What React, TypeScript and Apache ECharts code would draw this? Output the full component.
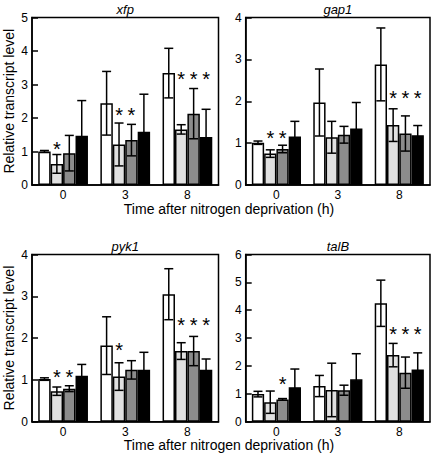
import React, { useEffect, useRef } from "react";
import * as echarts from "echarts";

const CATEGORIES = ["0", "3", "8"];
const PANEL_TITLES = ["xfp", "gap1", "pyk1", "talB"];
const Y_MAX = [5, 4, 4, 6];
const X_AXIS_TITLE = "Time after nitrogen deprivation (h)";
const Y_AXIS_TITLE = "Relative transcript level";
const BAR_COLORS = ["#ffffff", "#e0e0e0", "#8c8c8c", "#000000"];

// means per bar type (white, light gray, mid gray, black) over times 0, 3, 8 h
const XFP_MEANS = [
  [1.0, 2.44, 3.34],
  [0.63, 1.21, 1.66],
  [0.95, 1.34, 2.13],
  [1.47, 1.59, 1.43],
];
const XFP_ERRORS = [
  [0.03, 0.95, 0.74],
  [0.28, 0.64, 0.14],
  [0.53, 0.47, 0.75],
  [1.05, 1.12, 0.83],
];
const XFP_STARS = [
  [0, 1, 1.19],
  [1, 1, 2.22], [1, 2, 2.22],
  [2, 1, 3.28], [2, 2, 3.28], [2, 3, 3.28],
];

const GAP1_MEANS = [
  [1.01, 1.97, 2.88],
  [0.75, 1.14, 1.43],
  [0.86, 1.2, 1.23],
  [1.16, 1.35, 1.19],
];
const GAP1_ERRORS = [
  [0.04, 0.8, 0.87],
  [0.09, 0.38, 0.39],
  [0.09, 0.2, 0.42],
  [0.36, 0.62, 0.23],
];
const GAP1_STARS = [
  [0, 1, 1.22], [0, 2, 1.22],
  [2, 1, 2.17], [2, 2, 2.17], [2, 3, 2.17],
];

const PYK1_MEANS = [
  [1.02, 1.82, 3.05],
  [0.73, 1.08, 1.69],
  [0.79, 1.24, 1.69],
  [1.1, 1.24, 1.24],
];
const PYK1_ERRORS = [
  [0.03, 0.69, 0.61],
  [0.1, 0.33, 0.2],
  [0.07, 0.22, 0.35],
  [0.27, 0.42, 0.26],
];
const PYK1_STARS = [
  [0, 1, 1.17], [0, 2, 1.17],
  [1, 1, 1.81],
  [2, 1, 2.41], [2, 2, 2.41], [2, 3, 2.41],
];

const TALB_MEANS = [
  [0.99, 1.28, 4.25],
  [0.7, 1.14, 2.39],
  [0.8, 1.13, 1.76],
  [1.24, 1.52, 1.87],
];
const TALB_ERRORS = [
  [0.1, 0.38, 0.83],
  [0.4, 0.96, 0.42],
  [0.03, 0.18, 0.56],
  [0.65, 0.92, 0.6],
];
const TALB_STARS = [
  [0, 2, 1.48],
  [2, 1, 3.29], [2, 2, 3.29], [2, 3, 3.29],
];

const PANELS = [
  { means: XFP_MEANS, errors: XFP_ERRORS, stars: XFP_STARS },
  { means: GAP1_MEANS, errors: GAP1_ERRORS, stars: GAP1_STARS },
  { means: PYK1_MEANS, errors: PYK1_ERRORS, stars: PYK1_STARS },
  { means: TALB_MEANS, errors: TALB_ERRORS, stars: TALB_STARS },
];

const FONT = '"Liberation Sans", Arial, Helvetica, sans-serif';
const BAR_FRACTION = 0.2;

const GRIDS = [
  { left: 32, top: 17.5, width: 186.5, height: 167.5 },
  { left: 245.7, top: 17.5, width: 184.3, height: 167.5 },
  { left: 32, top: 254.5, width: 186.5, height: 167.2 },
  { left: 245.7, top: 254.5, width: 184.3, height: 167.2 },
];

function buildOption() {
  const series: any[] = [];
  PANELS.forEach((p, gi) => {
    p.means.forEach((vals, si) => {
      series.push({
        type: "bar",
        xAxisIndex: gi,
        yAxisIndex: gi,
        data: vals,
        barWidth: "20%",
        barGap: "0%",
        silent: true,
        itemStyle: { color: BAR_COLORS[si], borderColor: "#000", borderWidth: 1.5 },
        z: 2,
      });
    });
    const errData: number[][] = [];
    p.means.forEach((vals, si) => {
      vals.forEach((m, ti) => errData.push([ti, m, si, p.errors[si][ti]]));
    });
    series.push({
      type: "custom",
      xAxisIndex: gi,
      yAxisIndex: gi,
      data: errData,
      encode: { x: 0, y: 1 },
      silent: true,
      z: 5,
      renderItem: (params: any, api: any) => {
        const t = api.value(0);
        const m = api.value(1);
        const s = api.value(2);
        const e = api.value(3);
        const band = api.size([1, 0])[0];
        const bw = band * BAR_FRACTION;
        const cx = api.coord([t, m])[0] + (s - 1.5) * bw;
        const yT = api.coord([t, m + e])[1];
        const yB = api.coord([t, Math.max(m - e, 0)])[1];
        const cap = 4.5;
        const st = { stroke: "#000", lineWidth: 1.5 };
        return {
          type: "group",
          children: [
            { type: "line", shape: { x1: cx, y1: yT, x2: cx, y2: yB }, style: st },
            { type: "line", shape: { x1: cx - cap, y1: yT, x2: cx + cap, y2: yT }, style: st },
            { type: "line", shape: { x1: cx - cap, y1: yB, x2: cx + cap, y2: yB }, style: st },
          ],
        };
      },
    });
    series.push({
      type: "custom",
      xAxisIndex: gi,
      yAxisIndex: gi,
      data: p.stars.map((s) => [s[0], s[2], s[1]]),
      encode: { x: 0, y: 1 },
      silent: true,
      z: 6,
      renderItem: (params: any, api: any) => {
        const t = api.value(0);
        const v = api.value(1);
        const s = api.value(2);
        const band = api.size([1, 0])[0];
        const bw = band * BAR_FRACTION;
        const pt = api.coord([t, v]);
        return {
          type: "text",
          x: pt[0] + (s - 1.5) * bw,
          y: pt[1] + 4,
          style: {
            text: "*",
            font: `20px ${FONT}`,
            fill: "#000",
            textAlign: "center",
            textVerticalAlign: "middle",
          },
        };
      },
    });
  });

  const graphic: any[] = [];
  PANEL_TITLES.forEach((t, i) => {
    const g = GRIDS[i];
    graphic.push({
      type: "text",
      x: g.left + g.width / 2,
      y: g.top - 8,
      silent: true,
      style: {
        text: t,
        font: `italic 13px ${FONT}`,
        fill: "#000",
        textAlign: "center",
        textVerticalAlign: "middle",
      },
    });
  });
  [0, 2].forEach((i) => {
    const g = GRIDS[i];
    graphic.push({
      type: "text",
      x: 229,
      y: g.top + g.height + 23.5,
      silent: true,
      style: {
        text: X_AXIS_TITLE,
        font: `14px ${FONT}`,
        fill: "#000",
        textAlign: "center",
        textVerticalAlign: "middle",
      },
    });
    graphic.push({
      type: "text",
      x: 8.5,
      y: g.top + g.height / 2,
      rotation: Math.PI / 2,
      silent: true,
      style: {
        text: Y_AXIS_TITLE,
        font: `14px ${FONT}`,
        fill: "#000",
        textAlign: "center",
        textVerticalAlign: "middle",
      },
    });
  });

  return {
    animation: false,
    backgroundColor: "#ffffff",
    textStyle: { fontFamily: FONT },
    grid: GRIDS.map((g) => ({
      ...g,
      show: true,
      borderColor: "#000",
      borderWidth: 1.5,
      backgroundColor: "transparent",
      containLabel: false,
    })),
    xAxis: GRIDS.map((_, i) => ({
      type: "category",
      gridIndex: i,
      data: CATEGORIES,
      axisLine: { show: true, lineStyle: { color: "#000", width: 1.5 } },
      axisTick: { show: false },
      axisLabel: { color: "#000", fontSize: 12, lineHeight: 12, fontFamily: FONT, margin: 4 },
      splitLine: { show: false },
    })),
    yAxis: GRIDS.map((_, i) => ({
      type: "value",
      gridIndex: i,
      min: 0,
      max: Y_MAX[i],
      interval: 1,
      axisLine: { show: true, lineStyle: { color: "#000", width: 1.5 } },
      axisTick: { show: true, inside: true, length: 6, lineStyle: { color: "#000", width: 1.5 } },
      axisLabel: { color: "#000", fontSize: 12, fontFamily: FONT, margin: 4 },
      splitLine: { show: false },
    })),
    series,
    graphic,
  };
}

export default function App() {
  const ref = useRef<HTMLDivElement>(null);
  useEffect(() => {
    if (!ref.current) return;
    const chart = echarts.init(ref.current, null, { renderer: "svg" });
    chart.setOption(buildOption() as any);
    return () => chart.dispose();
  }, []);
  return (
    <div
      ref={ref}
      style={{ position: "fixed", left: 0, top: 0, width: 434, height: 454, background: "#fff" }}
    />
  );
}
